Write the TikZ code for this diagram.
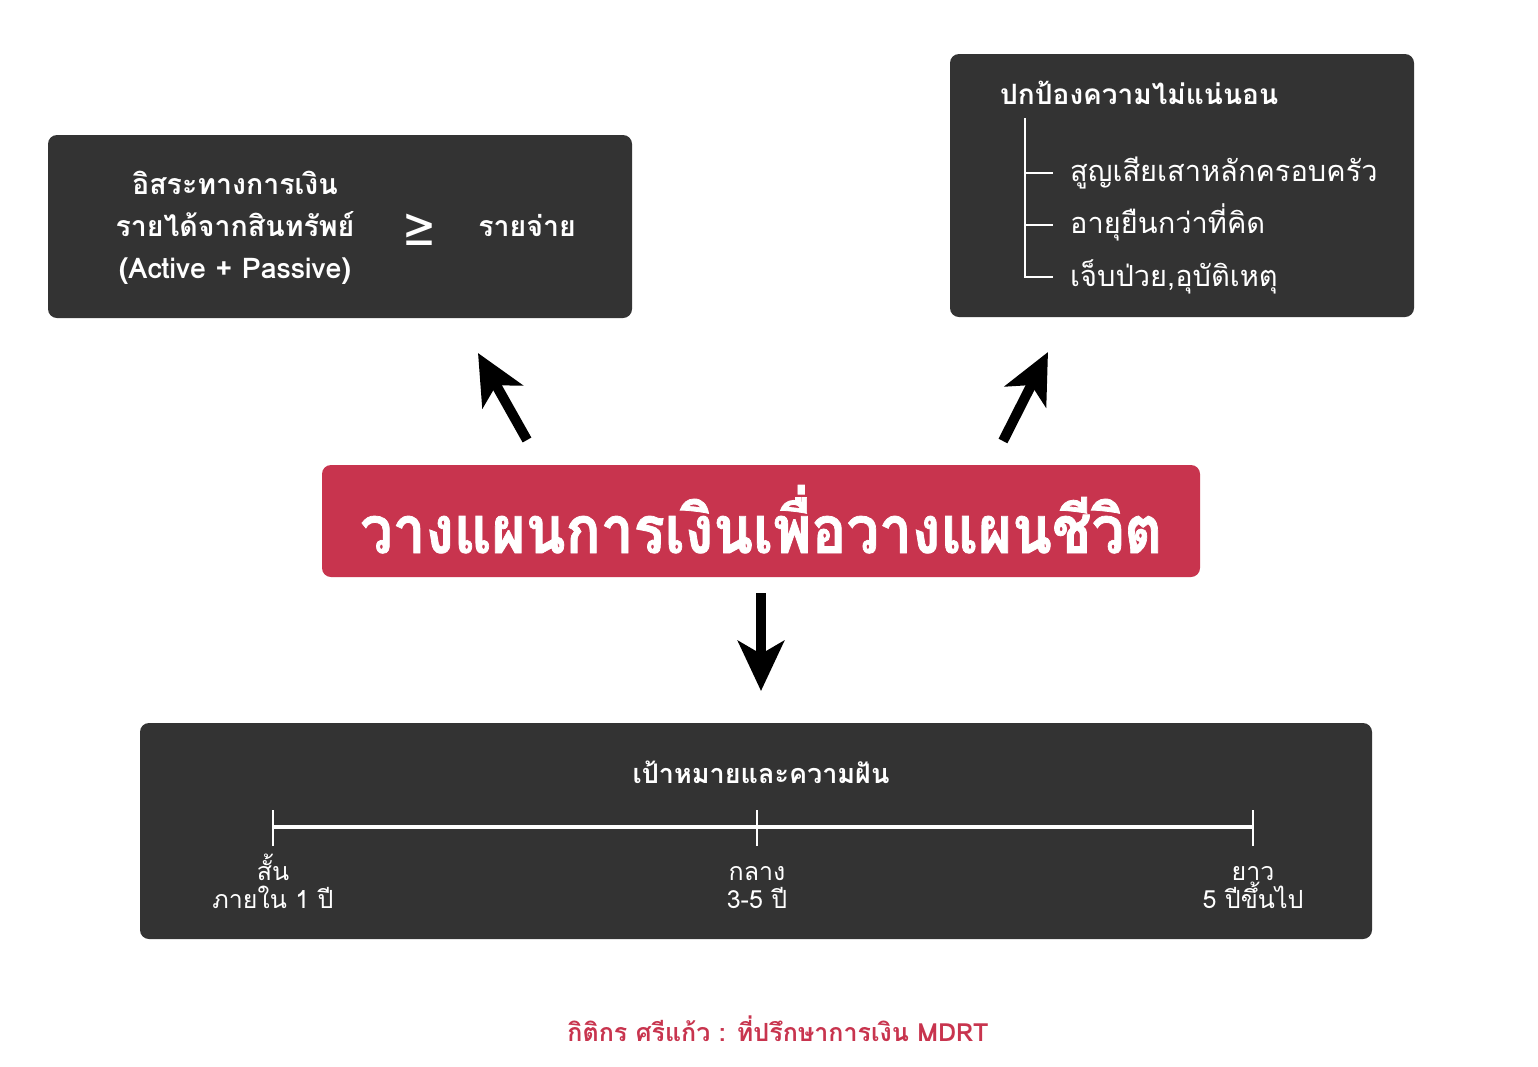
\documentclass[tikz,border=0pt]{standalone}
\usepackage{fontspec}
\usetikzlibrary{arrows.meta}
\setmainfont[Script=Thai]{Loma}
\newfontfamily\titlefont[Script=Thai, BoldFeatures={FakeBold=1.2}]{Loma}
\newfontfamily\symfont{DejaVu Sans}
\definecolor{boxgray}{HTML}{333333}
\definecolor{boxred}{HTML}{C8344E}
\definecolor{footred}{HTML}{C8344E}
\tikzset{
  darkbox/.style={fill=boxgray, rounded corners=9pt, inner sep=0pt},
  redbox/.style={fill=boxred, rounded corners=9pt, inner sep=0pt},
  wtext/.style={text=white, inner sep=0pt, anchor=base},
  bigarrow/.style={line width=10pt, -{Stealth[length=50pt, width=46pt, inset=13pt]}},
  treeline/.style={draw=white, line width=2pt},
  tline/.style={draw=white, line width=3.5pt},
  tick/.style={draw=white, line width=2pt}
}
\newcommand{\fs}[2]{\fontsize{#1}{#2}\selectfont}
\begin{document}
\begin{tikzpicture}[x=1pt,y=-1pt]
\useasboundingbox[fill=white] (0,0) rectangle (1538,1066);
% boxes
\node[darkbox, minimum width=584pt, minimum height=183pt] (freebox) at (340,226.5) {};
\node[darkbox, minimum width=464pt, minimum height=263pt] (protbox) at (1182,185.5) {};
\node[redbox, minimum width=878pt, minimum height=112pt] (mainbox) at (761,521) {};
\node[darkbox, minimum width=1232pt, minimum height=216pt] (goalbox) at (756,831) {};
% main title
\node[wtext, font=\fs{66}{70}\titlefont\bfseries] (maintitle) at (761,553) {\resizebox{802pt}{\height}{วางแผนการเงินเพื่อวางแผนชีวิต}};
% left box texts
\node[wtext, font=\fs{28.5}{34}\bfseries] (free1) at (235,194) {อิสระทางการเงิน};
\node[wtext, font=\fs{28.5}{34}\bfseries] (free2) at (235,236) {รายได้จากสินทรัพย์};
\node[wtext, font=\fs{28.5}{34}\bfseries] (free3) at (235,278) {(Active + Passive)};
\node[wtext, font=\fs{54}{54}\symfont] (geq) at (419,245) {\resizebox{34pt}{\height}{≥}};
\node[wtext, font=\fs{28.5}{34}\bfseries] (expense) at (527,236) {รายจ่าย};
% right box texts
\node[wtext, anchor=base west, font=\fs{28}{34}\bfseries] (prottitle) at (1000,104) {ปกป้องความไม่แน่นอน};
\coordinate (ttop) at (1025,118);
\coordinate (tb1) at (1025,173);
\coordinate (tb2) at (1025,225);
\coordinate (tb3) at (1025,277);
\node[wtext, anchor=base west, font=\fs{29}{34}] (item1) at (1070,181) {สูญเสียเสาหลักครอบครัว};
\node[wtext, anchor=base west, font=\fs{29}{34}] (item2) at (1070,233) {อายุยืนกว่าที่คิด};
\node[wtext, anchor=base west, font=\fs{29}{34}] (item3) at (1070,286) {เจ็บป่วย,อุบัติเหตุ};
\draw[treeline] (ttop) -- (tb3) -- ++(28,0);
\draw[treeline] (tb1) -- ++(28,0);
\draw[treeline] (tb2) -- ++(28,0);
% bottom
\node[wtext, font=\fs{27}{32}\bfseries] (goaltitle) at (761,783) {เป้าหมายและความฝัน};
\coordinate (t1) at (273,827);
\coordinate (t2) at (757,827);
\coordinate (t3) at (1253,827);
\draw[tline] (t1) -- (t3);
\foreach \c in {t1,t2,t3} \draw[tick] ([yshift=-19pt]\c) -- ([yshift=17pt]\c);
\node[wtext, font=\fs{25}{29}] (short1) at (273,880) {สั้น};
\node[wtext, font=\fs{25}{29}] (short2) at (273,908) {ภายใน 1 ปี};
\node[wtext, font=\fs{25}{29}] (mid1) at (757,880) {กลาง};
\node[wtext, font=\fs{25}{29}] (mid2) at (757,908) {3-5 ปี};
\node[wtext, font=\fs{25}{29}] (long1) at (1253,880) {ยาว};
\node[wtext, font=\fs{25}{29}] (long2) at (1253,908) {5 ปีขึ้นไป};
% arrows
\coordinate (a1s) at (527,440); \coordinate (a1e) at (478,353);
\coordinate (a2s) at (1003,441); \coordinate (a2e) at (1048,352);
\coordinate (a3s) at (761,593); \coordinate (a3e) at (761,691);
\draw[bigarrow] (a1s) -- (a1e);
\draw[bigarrow] (a2s) -- (a2e);
\draw[bigarrow] (a3s) -- (a3e);
% footer
\node[text=footred, inner sep=0pt, anchor=base, font=\fs{25}{30}\bfseries] (footer) at (778,1041) {กิติกร ศรีแก้ว : ที่ปรึกษาการเงิน MDRT};
\end{tikzpicture}
\end{document}
